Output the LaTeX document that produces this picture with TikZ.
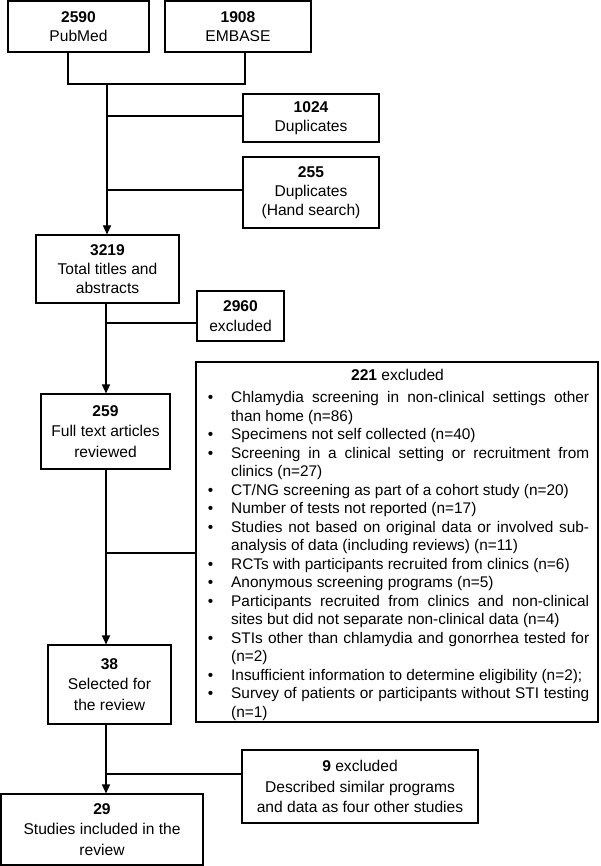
\documentclass[tikz,border=0pt]{standalone}
\usepackage{fontspec}
\setmainfont{Liberation Sans}
\usetikzlibrary{arrows.meta}
\newcommand{\bitem}[1]{\par\noindent\hangindent=26pt\hangafter=1\makebox[26pt][l]{\hspace{2.6pt}\textbullet}#1\par}
\begin{document}
\begin{tikzpicture}[x=1pt,y=-1pt,
  box/.style={draw=black, line width=1.1pt, inner sep=0pt, align=center, font=\fontsize{15.6}{19}\selectfont},
  wide/.style={font=\fontsize{15.6}{20.5}\selectfont},
  conn/.style={line width=1.1pt},
  arr/.style={conn, -{Triangle[width=8pt,length=9pt]}}]
\useasboundingbox (0,0) rectangle (600,866);

% boxes
\node[box, minimum width=141pt, minimum height=51pt] (pub) at (78.5,26.5) {\textbf{2590}\\PubMed};
\node[box, minimum width=146pt, minimum height=51pt] (emb) at (238,26.5) {\textbf{1908}\\EMBASE};
\node[box, minimum width=136pt, minimum height=48pt] (dup1) at (311,118) {\textbf{1024}\\Duplicates};
\node[box, minimum width=136pt, minimum height=71pt] (dup2) at (311,192.5) {\textbf{255}\\Duplicates\\(Hand search)};
\node[box, minimum width=143pt, minimum height=68pt] (tot) at (107.5,269) {\textbf{3219}\\Total titles and\\abstracts};
\node[box, wide, minimum width=87pt, minimum height=50pt] (ex1) at (240.5,316) {\textbf{2960}\\excluded};
\node[box, wide, minimum width=129pt, minimum height=75pt] (ft) at (105.5,431.5) {\textbf{259}\\Full text articles\\reviewed};
\node[box, minimum width=402pt, minimum height=360pt] (big) at (397,542) {};
\node[box, wide, minimum width=123pt, minimum height=79pt] (sel) at (109.5,684.5) {\textbf{38}\\Selected for\\the review};
\node[box, wide, minimum width=236pt, minimum height=73pt] (ex9) at (360,786.5) {\textbf{9} excluded\\Described similar programs\\and data as four other studies};
\node[box, wide, minimum width=202pt, minimum height=71pt] (inc) at (102,829.5) {\textbf{29}\\Studies included in the\\review};

% contents of the big box
\node[anchor=base, inner sep=0pt, font=\fontsize{15.6}{19}\selectfont] (h221) at (397.5,380) {\textbf{221} excluded};
\node[anchor=north west, inner sep=0pt, text width=384pt, align=justify, font=\fontsize{15.4}{18.5}\selectfont] (lst) at (205,384) {%
\bitem{Chlamydia screening in non-clinical settings other\linebreak than home (n=86)}%
\bitem{Specimens not self collected (n=40)}%
\bitem{Screening in a clinical setting or recruitment from\linebreak clinics (n=27)}%
\bitem{CT/NG screening as part of a cohort study (n=20)}%
\bitem{Number of tests not reported (n=17)}%
\bitem{Studies not based on original data or involved sub-\linebreak analysis of data (including reviews) (n=11)}%
\bitem{RCTs with participants recruited from clinics (n=6)}%
\bitem{Anonymous screening programs (n=5)}%
\bitem{Participants recruited from clinics and non-clinical\linebreak sites but did not separate non-clinical data (n=4)}%
\bitem{STIs other than chlamydia and gonorrhea tested for\linebreak (n=2)}%
\bitem{Insufficient information to determine eligibility (n=2);}%
\bitem{Survey of patients or participants without STI testing\linebreak (n=1)}};

% connectors
\coordinate (pa) at (68,84);
\coordinate (pb) at (245,84);
\coordinate (sp) at (107,84);
\draw[conn] (pa |- pub.south) -- (pa) -- (pb) -- (pb |- emb.south);
\draw[arr] (sp) -- (sp |- tot.north);
\coordinate (d1) at (107,116);
\draw[conn] (d1) -- (d1 -| dup1.west);
\coordinate (d2) at (107,190);
\draw[conn] (d2) -- (d2 -| dup2.west);
\coordinate (sq) at (106,0);
\draw[arr] (sq |- tot.south) -- (sq |- ft.north);
\coordinate (e1) at (106,323);
\draw[conn] (e1) -- (e1 -| ex1.west);
\draw[arr] (sq |- ft.south) -- (sq |- sel.north);
\coordinate (e2) at (106,553);
\draw[conn] (e2) -- (e2 -| big.west);
\draw[arr] (sq |- sel.south) -- (sq |- inc.north);
\coordinate (e3) at (106,774);
\draw[conn] (e3) -- (e3 -| ex9.west);
\end{tikzpicture}
\end{document}
